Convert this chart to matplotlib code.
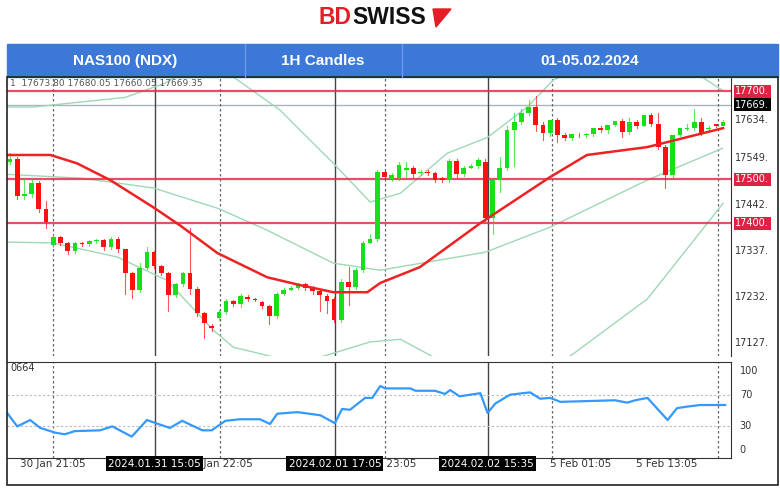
import matplotlib
matplotlib.use('Agg')
import matplotlib.pyplot as plt
from matplotlib.patches import Rectangle, Polygon
import numpy as np

# candles (1H), values
opens = [17540, 17545, 17461, 17466, 17491, 17432, 17350, 17368, 17354, 17336,
         17355, 17352, 17359, 17361, 17345, 17364, 17341, 17286, 17248, 17298,
         17334, 17302, 17286, 17236, 17261, 17286, 17250, 17195, 17166, 17184,
         17198, 17223, 17216, 17232, 17227, 17220, 17211, 17189, 17239, 17248,
         17252, 17261, 17252, 17245, 17234, 17227, 17180, 17266, 17255, 17293,
         17355, 17364, 17516, 17500, 17502, 17520, 17525, 17514, 17516, 17514,
         17502, 17498, 17541, 17511, 17525, 17530, 17539, 17411, 17498, 17525,
         17611, 17630, 17650, 17664, 17623, 17605, 17634, 17600, 17593, 17601,
         17600, 17602, 17616, 17611, 17623, 17632, 17607, 17630, 17620, 17645,
         17625, 17573, 17509, 17600, 17614, 17616, 17630, 17614, 17626, 17620]
closes = [17545, 17461, 17466, 17491, 17432, 17402, 17368, 17354, 17336, 17355,
          17352, 17359, 17361, 17345, 17364, 17341, 17286, 17248, 17298, 17334,
          17302, 17286, 17236, 17261, 17286, 17250, 17195, 17173, 17162, 17198,
          17223, 17216, 17234, 17227, 17225, 17211, 17189, 17239, 17248, 17252,
          17259, 17252, 17245, 17236, 17223, 17180, 17266, 17255, 17293, 17355,
          17364, 17516, 17505, 17509, 17532, 17525, 17511, 17516, 17514, 17498,
          17498, 17541, 17511, 17525, 17530, 17543, 17411, 17498, 17525, 17611,
          17630, 17650, 17664, 17623, 17605, 17634, 17600, 17593, 17602, 17600,
          17602, 17616, 17611, 17623, 17632, 17607, 17630, 17620, 17645, 17625,
          17573, 17509, 17600, 17616, 17616, 17630, 17605, 17616, 17622, 17630]
highs = [17560, 17550, 17500, 17498, 17496, 17450, 17372, 17370, 17358, 17358,
         17358, 17362, 17364, 17363, 17368, 17368, 17340, 17290, 17310, 17346,
         17336, 17306, 17290, 17265, 17290, 17389, 17254, 17198, 17170, 17202,
         17228, 17225, 17238, 17236, 17230, 17224, 17214, 17244, 17252, 17258,
         17264, 17264, 17256, 17250, 17238, 17232, 17272, 17300, 17298, 17360,
         17375, 17520, 17518, 17514, 17540, 17540, 17530, 17520, 17520, 17517,
         17505, 17545, 17545, 17530, 17535, 17548, 17545, 17500, 17550, 17620,
         17650, 17660, 17680, 17690, 17630, 17612, 17640, 17606, 17598, 17606,
         17604, 17606, 17620, 17616, 17628, 17636, 17640, 17634, 17630, 17650,
         17650, 17578, 17530, 17604, 17625, 17660, 17640, 17622, 17626, 17634]
lows = [17535, 17455, 17455, 17460, 17425, 17390, 17345, 17350, 17330, 17332,
        17348, 17349, 17356, 17340, 17342, 17335, 17240, 17230, 17244, 17295,
        17298, 17282, 17200, 17232, 17258, 17240, 17190, 17140, 17155, 17180,
        17194, 17212, 17210, 17222, 17222, 17206, 17170, 17185, 17236, 17248,
        17250, 17248, 17240, 17200, 17195, 17176, 17176, 17215, 17250, 17290,
        17355, 17360, 17500, 17495, 17498, 17505, 17506, 17510, 17510, 17494,
        17494, 17494, 17505, 17508, 17526, 17526, 17405, 17375, 17470, 17520,
        17530, 17625, 17645, 17610, 17590, 17598, 17585, 17588, 17590, 17596,
        17596, 17598, 17608, 17606, 17620, 17595, 17602, 17616, 17620, 17620,
        17568, 17480, 17505, 17598, 17612, 17612, 17600, 17612, 17618, 17626]

# moving average and Bollinger bands (candle index, price)
ma_x = [-0.4, 5.6, 9.3, 13.9, 19.9, 23.6, 28.8, 35.7, 40.3, 44.9, 49.6, 51.4,
        56.9, 65.3, 75.0, 80.1, 88.5, 99.0]
ma_y = [17555, 17555, 17536, 17498, 17436, 17395, 17332, 17277, 17259, 17243,
        17243, 17264, 17300, 17400, 17505, 17555, 17573, 17616]
mid_x = [-0.4, 10.1, 19.9, 28.8, 35.7, 44.9, 51.4, 66.0, 75.0, 88.5, 98.9]
mid_y = [17511, 17502, 17480, 17434, 17384, 17309, 17293, 17334, 17391, 17498, 17570]
up_x = [-0.4, 3.2, 16.0, 21.5, 26.0, 31.2, 37.5, 40.3, 44.9, 50.0, 54.2, 60.7,
        66.3, 71.8, 75.4, 85.0, 96.3, 98.9]
up_y = [17664, 17664, 17686, 17718, 17760, 17730, 17657, 17611, 17536, 17448,
        17468, 17559, 17595, 17664, 17725, 17800, 17730, 17702]
lo_x = [-0.4, 6.0, 14.9, 21.8, 28.2, 31.0, 36.8, 40.0, 45.0, 50.0, 54.2, 58.3,
        65.0, 77.8, 88.5, 99.0]
lo_y = [17357, 17355, 17323, 17270, 17157, 17118, 17095, 17080, 17105, 17130,
        17136, 17100, 17040, 17098, 17228, 17445]

# oscillator panel
osc_x = [-0.4, 1, 2.8, 4.2, 6.3, 7.6, 9, 12.5, 14.2, 16.9, 19, 22.2, 23.9, 26.7,
         28, 29.9, 31.9, 34.7, 36.1, 37.1, 39.9, 43.1, 45.1, 46.1, 47.2, 49.3,
         50.3, 51.4, 52.1, 55.6, 56.3, 59, 60.4, 61.1, 62.4, 65.3, 66.3, 67.4,
         69.4, 72.2, 73.6, 75, 76.4, 84, 85.7, 86.8, 88.5, 91.3, 92.6, 94, 95.8, 99.3]
osc_y = [47, 30, 38, 28, 22, 20, 24, 25, 30, 17, 38, 28, 37, 25, 25, 37, 39, 39,
         33, 46, 48, 44, 34, 52, 51, 66, 66, 81, 78, 78, 75, 75, 71, 76, 68, 72,
         47, 59, 70, 73, 65, 66, 61, 63, 60, 63, 66, 38, 53, 55, 57, 57]

levels = [17700, 17500, 17400]
last_price = 17669
right_ticks = [17634, 17549, 17442, 17337, 17232, 17127]
solid_vlines = [20.1, 45.1, 66.3]
dotted_vlines = [6.0, 29.2, 52.1, 75.3, 98.3]
time_labels = [(6.0, '30 Jan 21:05', False), (20.1, '2024.01.31 15:05', True),
               (29.2, '31 Jan 22:05', False), (45.1, '2024.02.01 17:05', True),
               (52.1, '1 Feb 23:05', False), (66.3, '2024.02.02 15:35', True),
               (79.2, '5 Feb 01:05', False), (91.2, '5 Feb 13:05', False)]

GREEN = '#18e018'
RED = '#ff1010'
LEVEL = '#e03050'
BAND = '#9fd8b4'

fig = plt.figure(figsize=(7.8, 4.88), dpi=100)
W, H = 780.0, 488.0


def rect(x0, y0, x1, y1):
    return [x0 / W, 1 - y1 / H, (x1 - x0) / W, (y1 - y0) / H]


# logo
fig.text(352 / W, 1 - 18 / H, 'BD', color='#e41e26', fontsize=16.5, fontweight='bold',
         ha='right', va='center', family='Liberation Sans')
fig.text(352 / W, 1 - 18 / H, 'SWISS', color='#111111', fontsize=16.5, fontweight='bold',
         ha='left', va='center', family='Liberation Sans')
fig.patches.append(Polygon([[433 / W, 1 - 9 / H], [451 / W, 1 - 9 / H], [436 / W, 1 - 27 / H]],
                           closed=True, color='#e41e26', transform=fig.transFigure))

# header bar
fig.patches.append(Rectangle((7 / W, 1 - 77 / H), 771 / W, 33 / H, color='#3c78d8',
                             transform=fig.transFigure))
for xd in [245, 402]:
    fig.add_artist(plt.Line2D([xd / W, xd / W], [1 - 77 / H, 1 - 44 / H], color='#6e9be6',
                              lw=1, transform=fig.transFigure))
for xc, t in [(125, 'NAS100 (NDX)'), (323, '1H Candles'), (590, '01-05.02.2024')]:
    fig.text(xc / W, 1 - 61 / H, t, color='white', fontsize=11, fontweight='bold',
             ha='center', va='center', family='Liberation Sans')

# outer frame
fig.patches.append(Rectangle((7 / W, 1 - 485 / H), 771 / W, 408 / H, fill=False,
                             edgecolor='#222222', lw=1.2, transform=fig.transFigure))

ax = fig.add_axes(rect(7, 78, 731, 356))
ax2 = fig.add_axes(rect(7, 362, 731, 458))

x = np.arange(len(closes))
for i in x:
    o, c = opens[i], closes[i]
    col = GREEN if c >= o else RED
    ax.plot([i, i], [lows[i], highs[i]], color=col, lw=0.8, alpha=0.7, zorder=3)
    ax.bar(i, max(abs(c - o), 1.5), bottom=min(o, c), width=0.65, color=col, zorder=4)

ax.plot(ma_x, ma_y, color='#ee2222', lw=1.8, zorder=5)
for bx, by in [(mid_x, mid_y), (up_x, up_y), (lo_x, lo_y)]:
    ax.plot(bx, by, color=BAND, lw=1, zorder=2)
for lv in levels:
    ax.axhline(lv, color=LEVEL, lw=1.6, alpha=0.85, zorder=2)
ax.axhline(last_price, color='#aab4c0', lw=1, zorder=1)

for a in [ax, ax2]:
    a.set_xlim(-0.42, 100.1)
    for v in solid_vlines:
        a.axvline(v, color='#444444', lw=1, zorder=1)
    for v in dotted_vlines:
        a.axvline(v, color='#666666', lw=0.9, ls=(0, (2, 2)), zorder=1)
    a.set_xticks([])
    a.set_yticks([])
    for s in ['top', 'left', 'bottom']:
        a.spines[s].set_visible(False)
    a.spines['right'].set_color('#333333')

ax.set_ylim(17098, 17730)
ax.text(0.005, 17718, '1  17673.80 17680.05 17660.05 17669.35', fontsize=6.5, color='#555555',
        va='center', zorder=6)

tr = ax.get_yaxis_transform()
for v in right_ticks:
    ax.text(1.006, v, str(v) + '.', transform=tr, fontsize=7, color='#333333',
            va='center', ha='left', clip_on=False)
for lv in levels:
    ax.text(1.006, lv, str(lv) + '.', transform=tr, fontsize=7, color='white', va='center',
            ha='left', clip_on=False, bbox=dict(boxstyle='square,pad=0.15', fc='#dd2244', ec='none'))
ax.text(1.006, last_price, str(last_price) + '.', transform=tr, fontsize=7, color='white',
        va='center', ha='left', clip_on=False,
        bbox=dict(boxstyle='square,pad=0.15', fc='black', ec='none'))

ax2.set_ylim(-10, 111.4)
ax2.plot(osc_x, osc_y, color='#3399ff', lw=1.6, zorder=4)
for lv in [70, 30]:
    ax2.axhline(lv, color='#bbbbbb', lw=0.8, ls=(0, (2, 2)), zorder=1)
ax2.spines['bottom'].set_visible(True)
ax2.spines['bottom'].set_color('#333333')
ax2.spines['top'].set_visible(True)
ax2.spines['top'].set_color('#333333')
tr2 = ax2.get_yaxis_transform()
for v in [100, 70, 30, 0]:
    ax2.text(1.012, v, str(v), transform=tr2, fontsize=7, color='#333333', va='center',
             ha='left', clip_on=False)
ax2.text(0.0, 104, '0664', fontsize=7, color='#333333', va='center', ha='left')

for pos, t, boxed in time_labels:
    if boxed:
        ax2.text(pos, -17, t, fontsize=7.5, color='white', ha='center', va='center', clip_on=False,
                 bbox=dict(boxstyle='square,pad=0.2', fc='black', ec='none'), zorder=10)
    else:
        ax2.text(pos, -17, t, fontsize=7.5, color='#333333', ha='center', va='center',
                 clip_on=False, zorder=9)

fig.savefig('out.png', dpi=100)
